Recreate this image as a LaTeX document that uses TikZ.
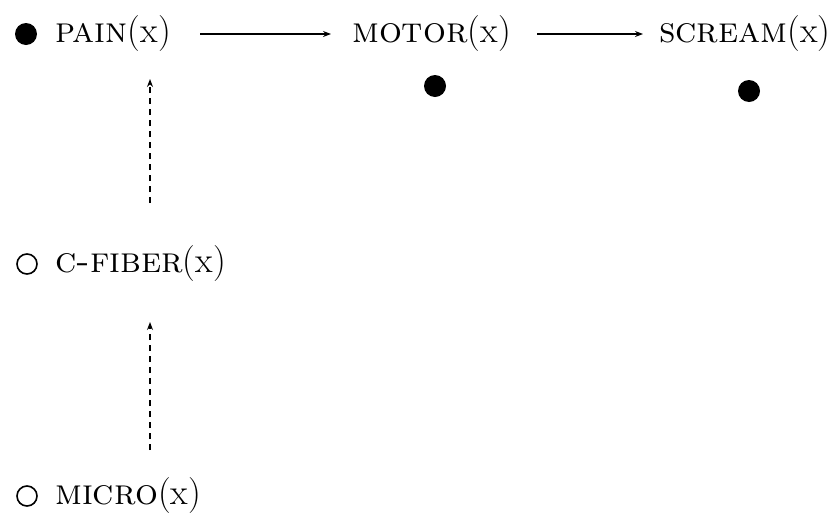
\documentclass[tikz,border=0pt]{standalone}
\usetikzlibrary{arrows.meta}
\begin{document}
\begin{tikzpicture}[x=1pt,y=-1pt,
  lbl/.style={anchor=west,inner sep=0pt,font=\fontsize{36}{43}\selectfont},
  fulldot/.style={circle,fill=black,minimum size=22pt,inner sep=0pt},
  opendot/.style={circle,draw=black,line width=1.6pt,minimum size=20pt,inner sep=0pt},
  conn/.style={line width=1.3pt,-{Stealth[length=8pt,width=6pt]}},
  dconn/.style={conn,dash pattern=on 6pt off 5pt}]
\useasboundingbox (0,0) rectangle (832,512);
\node[fulldot] (d1) at (26,34) {};
\node[lbl] (pain) at (55,34) {\textsc{pain}(x)};
\node[lbl] (motor) at (352,34) {\textsc{motor}(x)};
\node[lbl] (scream) at (659,34) {\textsc{scream}(x)};
\node[fulldot] (d2) at (435,86) {};
\node[fulldot] (d3) at (749,91) {};
\node[opendot] (c1) at (27,264) {};
\node[lbl] (cfiber) at (55,264) {\textsc{c-fiber}(x)};
\node[opendot] (c2) at (27,496) {};
\node[lbl] (micro) at (55,496) {\textsc{micro}(x)};
\coordinate (a1s) at (200,34); \coordinate (a1e) at (331,34);
\coordinate (a2s) at (537,34); \coordinate (a2e) at (643,34);
\coordinate (b1s) at (150,203); \coordinate (b1e) at (150,79);
\coordinate (b2s) at (150,450); \coordinate (b2e) at (150,322);
\draw[conn] (a1s) -- (a1e);
\draw[conn] (a2s) -- (a2e);
\draw[dconn] (b1s) -- (b1e);
\draw[dconn] (b2s) -- (b2e);
\end{tikzpicture}
\end{document}
